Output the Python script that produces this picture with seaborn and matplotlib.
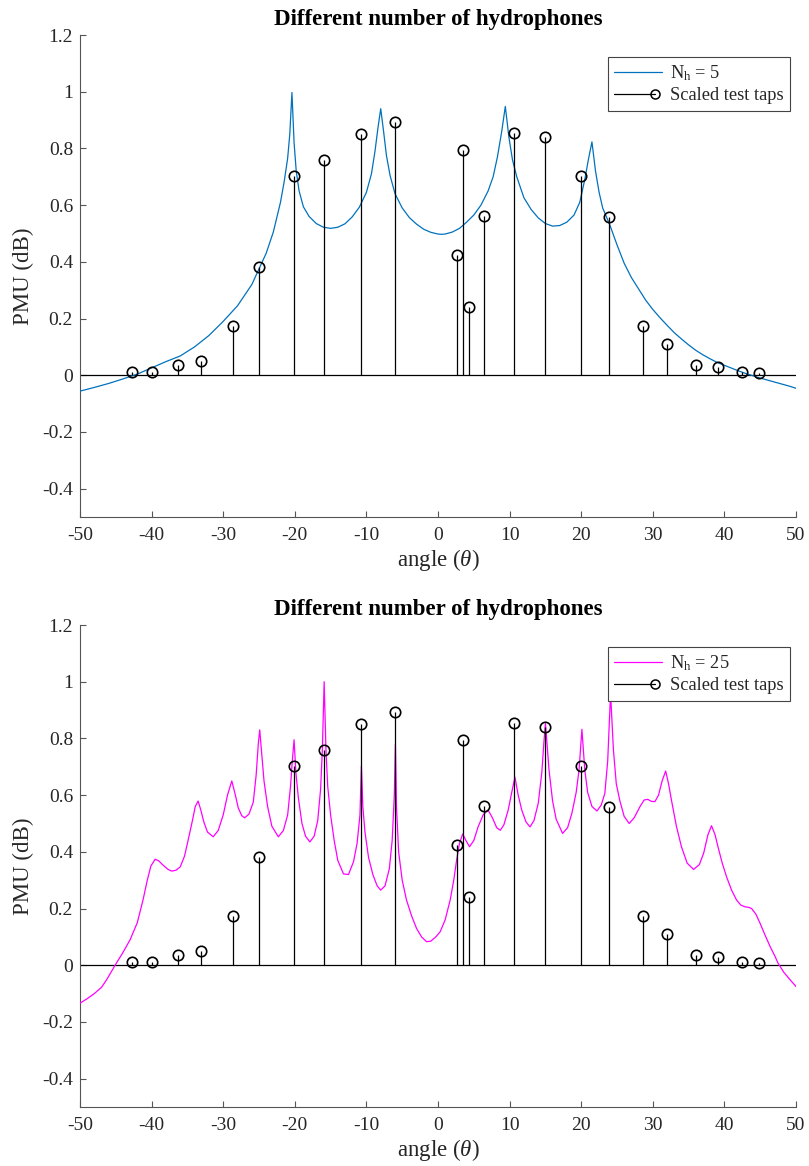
import numpy as np
import pandas as pd
import matplotlib
matplotlib.use("Agg")
import matplotlib.pyplot as plt
import seaborn as sns
from matplotlib.lines import Line2D
from matplotlib.legend_handler import HandlerBase
from matplotlib.ticker import FuncFormatter

# ---------------- data ----------------
tap_angles = [-42.7, -40.0, -36.3, -33.1, -28.7, -25.0, -20.15, -15.9, -10.75, -5.96,
              2.61, 3.45, 4.37, 6.47, 10.66, 14.94, 20.01, 23.92, 28.6, 32.03,
              36.1, 39.06, 42.4, 44.9]
tap_values = [0.010, 0.012, 0.036, 0.051, 0.174, 0.380, 0.702, 0.759, 0.850, 0.894,
              0.424, 0.795, 0.240, 0.560, 0.853, 0.841, 0.703, 0.557, 0.175, 0.110,
              0.036, 0.029, 0.010, 0.009]

nh5_angle = [-50, -48, -46, -44, -42, -40, -38, -36, -34, -32, -30, -28, -26, -25, -24, -23,
             -22, -21.5, -21, -20.7, -20.4, -20.1, -19.8, -19.4, -18.8, -18, -17, -16, -15,
             -14, -13, -12, -11, -10, -9.3, -8.8, -8.4, -8.0, -7.6, -7.2, -6.7, -6, -5, -4,
             -3, -2, -1, 0, 0.5, 1, 2, 3, 4, 5, 6, 7, 7.7, 8.3, 8.9, 9.4, 9.9, 10.4, 11, 12,
             13, 14, 15, 16, 17, 18, 19, 19.8, 20.5, 21, 21.5, 22, 22.5, 23, 24, 25, 26, 27,
             28, 29, 30, 31, 32, 33, 34, 35, 36, 37, 38, 39, 40, 41, 42, 43, 44, 45, 46, 47,
             48, 49, 50]
nh5_value = [-0.056, -0.043, -0.029, -0.013, 0.004, 0.026, 0.048, 0.068, 0.100, 0.140, 0.190,
             0.245, 0.320, 0.375, 0.430, 0.505, 0.610, 0.680, 0.765, 0.850, 0.997, 0.820,
             0.720, 0.650, 0.594, 0.560, 0.535, 0.522, 0.518, 0.522, 0.534, 0.558, 0.592,
             0.645, 0.710, 0.790, 0.870, 0.940, 0.860, 0.775, 0.705, 0.640, 0.590, 0.556,
             0.533, 0.515, 0.504, 0.498, 0.497, 0.498, 0.505, 0.518, 0.540, 0.565, 0.600,
             0.650, 0.700, 0.770, 0.860, 0.948, 0.840, 0.760, 0.700, 0.626, 0.585, 0.555,
             0.535, 0.526, 0.528, 0.540, 0.565, 0.610, 0.690, 0.760, 0.823, 0.720, 0.645,
             0.590, 0.530, 0.460, 0.395, 0.345, 0.305, 0.265, 0.232, 0.203, 0.176, 0.150,
             0.128, 0.107, 0.088, 0.072, 0.058, 0.045, 0.035, 0.025, 0.015, 0.006, -0.002,
             -0.010, -0.017, -0.024, -0.031, -0.038, -0.046]

nh25_angle = [-50, -49, -48, -47, -46.3, -45.1, -44, -43, -42, -41.2, -40.6, -40.1, -39.5, -39,
              -38.4, -37.7, -37.2, -36.6, -36, -35.4, -34.9, -34.3, -33.9, -33.5, -33.1, -32.7,
              -32.2, -31.4, -30.7, -30, -29.4, -28.8, -28.3, -27.9, -27.4, -27.0, -26.4, -25.8,
              -25.4, -25.1, -24.9, -24.6, -24.3, -23.8, -23.2, -22.3, -21.6, -21.0, -20.6,
              -20.35, -20.1, -19.85, -19.5, -19.0, -18.5, -17.9, -17.3, -16.8, -16.4, -16.15,
              -15.9, -15.65, -15.4, -15.0, -14.5, -14.0, -13.2, -12.5, -11.8, -11.3, -10.9,
              -10.7, -10.5, -10.2, -9.7, -9.1, -8.5, -8.0, -7.4, -6.8, -6.4, -6.1, -5.95, -5.8,
              -5.5, -5.0, -4.4, -3.7, -3.0, -2.3, -1.6, -1.0, -0.3, 0.3, 1.0, 1.7, 2.2, 2.6,
              3.0, 3.45, 3.9, 4.4, 5.0, 5.6, 6.3, 7.0, 7.6, 8.2, 8.7, 9.2, 9.8, 10.3, 10.75,
              11.2, 11.7, 12.3, 12.85, 13.4, 14.0, 14.5, 14.8, 15.0, 15.2, 15.5, 16.0, 16.5,
              17.4, 18.1, 18.7, 19.3, 19.7, 20.1, 20.5, 20.9, 21.5, 22.2, 22.8, 23.3, 23.7,
              24.1, 24.5, 24.9, 25.4, 26.0, 26.7, 27.4, 28.2, 28.8, 29.3, 29.8, 30.3, 30.8,
              31.3, 31.8, 32.2, 32.6, 33.3, 34.0, 34.8, 35.7, 36.5, 37.1, 37.7, 38.2, 38.7,
              39.1, 39.7, 40.3, 41.0, 41.7, 42.3, 42.9, 43.4, 43.8, 44.4, 45.0, 45.7, 46.4,
              47.0, 47.5, 48.3, 49.2, 50.0]
nh25_value = [-0.134, -0.118, -0.100, -0.078, -0.052, 0.0, 0.045, 0.090, 0.150, 0.230, 0.300,
              0.350, 0.374, 0.368, 0.353, 0.338, 0.332, 0.335, 0.347, 0.385, 0.441, 0.510,
              0.560, 0.579, 0.545, 0.505, 0.470, 0.453, 0.475, 0.530, 0.600, 0.650, 0.600,
              0.555, 0.527, 0.520, 0.533, 0.575, 0.670, 0.780, 0.830, 0.740, 0.650, 0.560,
              0.490, 0.453, 0.475, 0.530, 0.630, 0.720, 0.795, 0.680, 0.590, 0.500, 0.455,
              0.435, 0.455, 0.510, 0.620, 0.760, 1.000, 0.760, 0.630, 0.530, 0.440, 0.370,
              0.322, 0.320, 0.365, 0.430, 0.530, 0.703, 0.560, 0.470, 0.380, 0.320, 0.280,
              0.265, 0.280, 0.340, 0.440, 0.600, 0.780, 0.560, 0.400, 0.300, 0.230, 0.175,
              0.130, 0.100, 0.083, 0.085, 0.100, 0.118, 0.160, 0.230, 0.300, 0.371, 0.430,
              0.463, 0.440, 0.418, 0.440, 0.488, 0.530, 0.547, 0.520, 0.485, 0.476, 0.495,
              0.547, 0.610, 0.663, 0.600, 0.547, 0.505, 0.488, 0.510, 0.571, 0.680, 0.790,
              0.853, 0.790, 0.690, 0.580, 0.515, 0.465, 0.485, 0.536, 0.610, 0.689, 0.832,
              0.689, 0.610, 0.560, 0.544, 0.565, 0.606, 0.720, 0.959, 0.760, 0.640, 0.580,
              0.525, 0.500, 0.520, 0.559, 0.583, 0.585, 0.578, 0.577, 0.600, 0.650, 0.685,
              0.640, 0.583, 0.490, 0.418, 0.360, 0.338, 0.355, 0.395, 0.460, 0.492, 0.460,
              0.418, 0.360, 0.312, 0.265, 0.230, 0.212, 0.206, 0.204, 0.200, 0.180, 0.147,
              0.105, 0.065, 0.035, 0.007, -0.025, -0.052, -0.075]

x_ticks = [-50, -40, -30, -20, -10, 0, 10, 20, 30, 40, 50]
y_ticks = [-0.4, -0.2, 0, 0.2, 0.4, 0.6, 0.8, 1.0, 1.2]
title_text = "Different number of hydrophones"
labels_curve = [r"N$_{\mathrm{h}}$ = 5", r"N$_{\mathrm{h}}$ = 25"]
label_taps = "Scaled test taps"
colors_curve = ["#0072BD", "#FF00FF"]

# ---------------- style ----------------
sns.set_theme(style="ticks")
plt.rcParams["font.family"] = ["Liberation Serif", "DejaVu Serif"]
plt.rcParams["mathtext.fontset"] = "custom"
plt.rcParams["mathtext.rm"] = "Liberation Serif"
plt.rcParams["mathtext.it"] = "Liberation Serif:italic"
plt.rcParams["axes.unicode_minus"] = False

AX_COL = "#555555"
TXT_COL = "#262626"


class StemHandler(HandlerBase):
    def create_artists(self, legend, orig_handle, xdescent, ydescent, width, height,
                       fontsize, trans):
        y = height / 2.0 - ydescent
        x0 = -xdescent
        x1 = width - xdescent
        ln = Line2D([x0, x1 - 5], [y, y], color="black", lw=0.9, transform=trans)
        mk = Line2D([x1 - 5], [y], marker="o", ms=6.5, mfc="none", mec="black", mew=1.1,
                    ls="none", transform=trans)
        return [ln, mk]


fig = plt.figure(figsize=(8.09, 11.66), dpi=100)
positions = [[80 / 809, 1 - 517 / 1166, 716 / 809, 482 / 1166],
             [80 / 809, 1 - 1107 / 1166, 716 / 809, 482 / 1166]]
curves = [(nh5_angle, nh5_value), (nh25_angle, nh25_value)]

for i in range(2):
    ax = fig.add_axes(positions[i])
    ca, cv = curves[i]
    df = pd.DataFrame({"angle": ca, "value": cv})
    sns.lineplot(data=df, x="angle", y="value", ax=ax, color=colors_curve[i], lw=0.9,
                 sort=False, estimator=None, zorder=3)
    # stems
    ax.vlines(tap_angles, 0, tap_values, colors="black", lw=0.9, zorder=4)
    ax.axhline(0, color="black", lw=0.9, zorder=2)
    tdf = pd.DataFrame({"angle": tap_angles, "value": tap_values})
    ax.plot(tdf["angle"], tdf["value"], ls="none", marker="o", ms=7.5, mfc="none",
            mec="black", mew=1.2, zorder=5)

    ax.set_xlim(-50, 50)
    ax.set_ylim(-0.5, 1.2)
    ax.set_xticks(x_ticks)
    ax.set_yticks(y_ticks)
    ax.xaxis.set_major_formatter(FuncFormatter(lambda v, p: f"{v:g}"))
    ax.yaxis.set_major_formatter(FuncFormatter(lambda v, p: f"{round(v, 1):g}"))
    ax.tick_params(direction="in", length=4.5, width=0.8, color=AX_COL,
                   labelsize=14, labelcolor=TXT_COL)
    ax.tick_params(axis="x", pad=7.5)
    ax.tick_params(axis="y", pad=5)
    for s in ["top", "right"]:
        ax.spines[s].set_visible(False)
    for s in ["left", "bottom"]:
        ax.spines[s].set_color(AX_COL)
        ax.spines[s].set_linewidth(0.8)
    ax.set_xlabel(r"angle ($\theta$)", fontsize=16.5, color=TXT_COL, labelpad=2)
    ax.set_ylabel("PMU (dB)", fontsize=16.5, color=TXT_COL, labelpad=6)
    ax.set_title(title_text, fontsize=16.5, fontweight="bold", color="black", pad=7)

    h_curve = Line2D([0], [0], color=colors_curve[i], lw=0.9)
    h_taps = Line2D([0], [0], color="black")
    leg = ax.legend([h_curve, h_taps], [labels_curve[i], label_taps],
                    handler_map={h_taps: StemHandler()},
                    loc="upper right", bbox_to_anchor=(0.992, 0.955), fontsize=13.2,
                    frameon=True, fancybox=False, framealpha=1, edgecolor="#444444",
                    handlelength=2.6, handletextpad=0.45, borderpad=0.35,
                    labelspacing=0.25, borderaxespad=0)
    leg.get_frame().set_linewidth(0.8)

fig.savefig("out.png", dpi=100)
